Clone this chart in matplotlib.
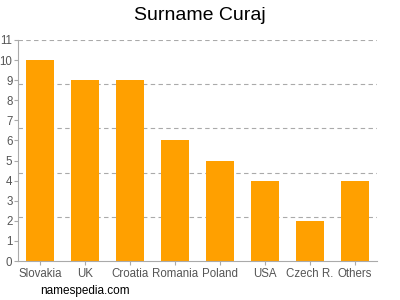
import numpy as np
from matplotlib import pyplot as plt

countries = ['Slovakia', 'UK', 'Croatia', 'Romania', 'Poland', 'USA', 'Czech R.', 'Others']
counts = [10, 9, 9, 6, 5, 4, 2, 4]
y_ticks = list(range(0, 12))
grid_levels = [2.2, 4.4, 6.6, 8.8, 11]


def run():
    plt.rcParams['font.family'] = ['Liberation Sans', 'DejaVu Sans']
    fig = plt.figure(figsize=(4, 3), dpi=100)
    ax = fig.add_axes([0.045, 0.13, 0.8975, 0.7367])

    x = np.arange(len(countries))
    ax.bar(x, counts, width=0.62, color='#ffa000', zorder=2)

    # dashed guide lines
    for g in grid_levels:
        ax.axhline(g, color='#aaaaaa', linestyle=(0, (4, 3)), linewidth=0.8, zorder=1)

    ax.set_xlim(-0.49, len(countries) - 0.51)
    ax.set_ylim(0, 11)
    ax.set_yticks(y_ticks)
    ax.set_xticks(x)
    ax.set_xticklabels(countries)

    for side in ['top', 'right']:
        ax.spines[side].set_visible(False)
    for side in ['left', 'bottom']:
        ax.spines[side].set_color('#aaaaaa')
    ax.tick_params(axis='both', colors='#aaaaaa', labelcolor='#555555', labelsize=8.3, length=3, width=0.8)
    ax.tick_params(axis='y', pad=1)
    ax.tick_params(axis='x', pad=2)

    fig.text(0.5, 0.95, 'Surname Curaj', ha='center', va='center', fontsize=14)
    fig.text(0.1, 0.03, 'namespedia.com', ha='left', va='center', fontsize=8.5)

    fig.savefig('out.png', dpi=100)


if __name__ == '__main__':
    run()
